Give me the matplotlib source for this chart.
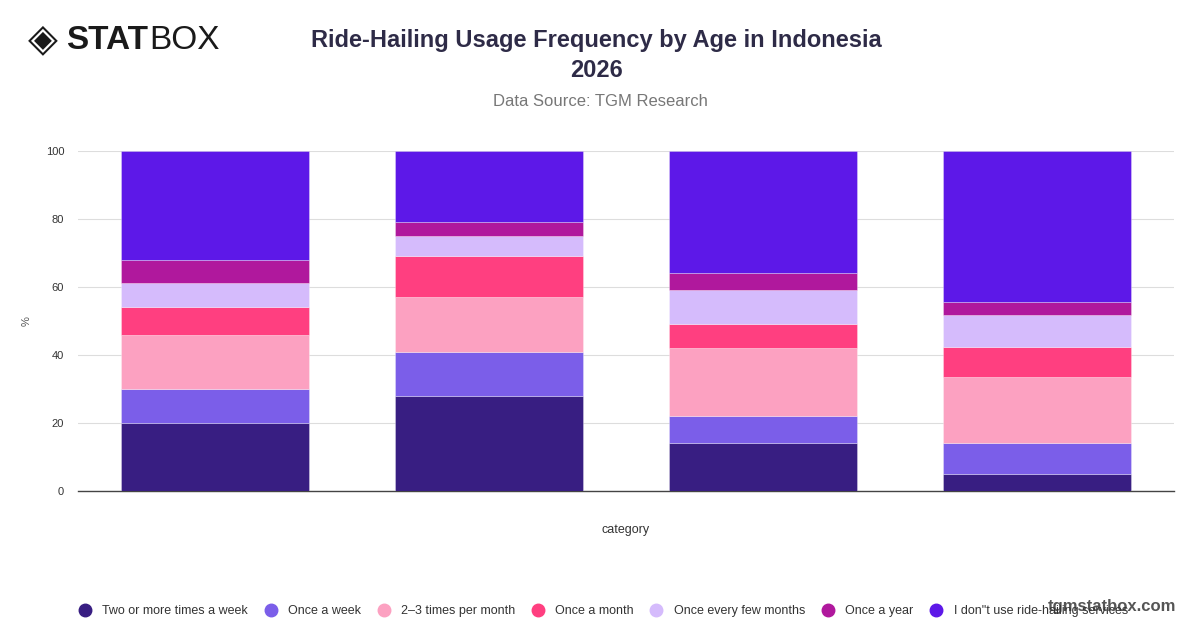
import numpy as np
import matplotlib.pyplot as plt
from matplotlib.lines import Line2D

plt.rcParams['font.family'] = ['Liberation Sans', 'DejaVu Sans']

# %% Data
categories = ['18-24', '25-34', '35-44', '45+']
series = ['Two or more times a week', 'Once a week', '2\u20133 times per month',
          'Once a month', 'Once every few months', 'Once a year',
          'I don"t use ride-hailing services']
values = {
    'Two or more times a week': [20, 28, 14, 5.1],
    'Once a week': [10, 13, 8, 9.1],
    '2\u20133 times per month': [16, 16, 20, 19.3],
    'Once a month': [8, 12, 7, 8.9],
    'Once every few months': [7, 6, 10, 9.2],
    'Once a year': [7, 4, 5, 4.0],
    'I don"t use ride-hailing services': [32, 21, 36, 44.4],
}
colors = ['#381e82', '#7b5ee9', '#fca1c1', '#ff3f80', '#d5bbfc', '#b0189d', '#5d18e8']

# %% Plot
fig = plt.figure(figsize=(12, 6.28), dpi=100)
ax = fig.add_axes([0.065, 0.218, 0.913, 0.542])

x = np.arange(len(categories))
bottom = np.zeros(len(categories))
for name, col in zip(series, colors):
    v = np.array(values[name])
    ax.bar(x, v, width=0.686, bottom=bottom, color=col, edgecolor=(1, 1, 1, 0.35),
           linewidth=0.6, zorder=3)
    bottom += v

ax.set_xlim(-0.5, len(categories) - 0.5)
ax.set_ylim(0, 100)
ax.set_yticks(np.arange(0, 101, 20))
ax.tick_params(axis='y', length=0, labelsize=8, labelcolor='#333333', pad=10)
ax.set_xticks([])
ax.grid(axis='y', color='#dddddd', linewidth=0.8, zorder=0)
for s in ['top', 'right', 'left']:
    ax.spines[s].set_visible(False)
ax.spines['bottom'].set_color('#444444')
ax.spines['bottom'].set_linewidth(1.0)
ax.set_xlabel('category', fontsize=9, color='#333333', labelpad=24)
ax.set_ylabel('%', fontsize=8, color='#555555', labelpad=10)

# Titles
fig.text(0.497, 0.935, 'Ride-Hailing Usage Frequency by Age in Indonesia', ha='center',
         va='center', fontsize=17, fontweight='bold', color='#2e2b47')
fig.text(0.497, 0.888, '2026', ha='center', va='center', fontsize=17,
         fontweight='bold', color='#2e2b47')
fig.text(0.5, 0.838, 'Data Source: TGM Research', ha='center', va='center',
         fontsize=12, color='#777777')

# Logo
fig.text(0.036, 0.937, '\u25c8', ha='center', va='center', fontsize=28, color='#1a1a1a',
         family=['DejaVu Sans'])
stat = fig.text(0.055, 0.935, 'STAT', ha='left', va='center', fontsize=24,
                fontweight='bold', color='#1a1a1a')
fig.canvas.draw()
bb = stat.get_window_extent().transformed(fig.transFigure.inverted())
fig.text(bb.x1 + 0.001, 0.935, 'BOX', ha='left', va='center', fontsize=24, color='#1a1a1a')

# Watermark
fig.text(0.98, 0.035, 'tgmstatbox.com', ha='right', va='center', fontsize=12,
         fontweight='bold', color='#555555')

# Legend
handles = [Line2D([0], [0], marker='o', linestyle='', markersize=9,
                  markerfacecolor=c, markeredgecolor=c) for c in colors]
fig.legend(handles, series, loc='center', bbox_to_anchor=(0.5, 0.027), ncol=7,
           frameon=False, fontsize=9, handletextpad=0.4, columnspacing=0.8,
           labelcolor='#333333')

fig.savefig('out.png', dpi=100)
